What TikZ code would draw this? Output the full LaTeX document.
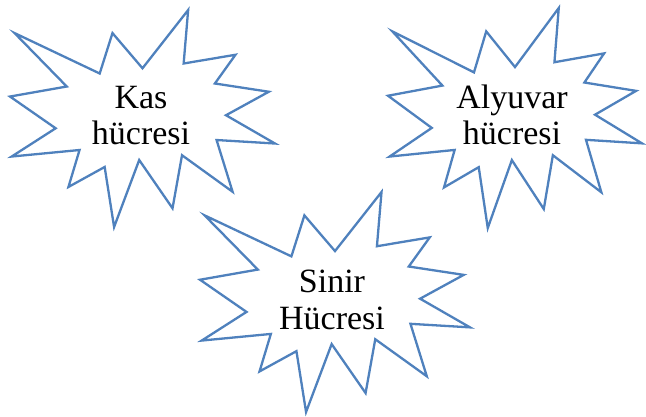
\documentclass[tikz,border=0pt]{standalone}
\usepackage{fontspec}
\setmainfont{Liberation Serif}
\definecolor{sealblue}{HTML}{4F81BD}
\tikzset{
  sealline/.style={draw=sealblue, line width=2.3pt, fill=white, line join=miter, miter limit=10},
  lbl/.style={font=\fontsize{34}{36.5}\selectfont, align=center, inner sep=0pt}
}
% #1,#2: top-left corner (px); #3,#4: width/1000, height/1000
\newcommand\explosion[4]{%
  \begin{scope}[shift={(#1pt,-#2pt)}, x=#3pt, y=-#4pt]
    \draw[sealline] (500,268.5) -- (672.3,0) -- (655.3,246.5) -- (850.9,206.3)
      -- (773.2,338.7) -- (976.7,376.7) -- (815.1,485.0) -- (1000,615.3)
      -- (779.5,599.2) -- (840.0,837.7) -- (649.1,669.3) -- (613.3,913.8)
      -- (487.6,691.4) -- (392.8,1000) -- (357.2,723.5) -- (220.5,815.6)
      -- (262.4,645.2) -- (6.3,675.3) -- (172.3,545.1) -- (0,398.8)
      -- (214.2,352.6) -- (17.1,106.3) -- (338.5,292.6) -- (386.7,106.3) -- cycle;
  \end{scope}}
\begin{document}
\begin{tikzpicture}[x=1pt, y=-1pt]
  \useasboundingbox (0,0) rectangle (646,417);
  \explosion{10}{10}{0.265}{0.217}
  \explosion{388}{8}{0.254}{0.220}
  \explosion{200}{192}{0.270}{0.220}
  \node[lbl, anchor=base] (kas) at (141,145) {Kas\\hücresi};
  \node[lbl, anchor=base] (alyuvar) at (512,145) {Alyuvar\\hücresi};
  \node[lbl, anchor=base] (sinir) at (332,329) {Sinir\\Hücresi};
\end{tikzpicture}
\end{document}
